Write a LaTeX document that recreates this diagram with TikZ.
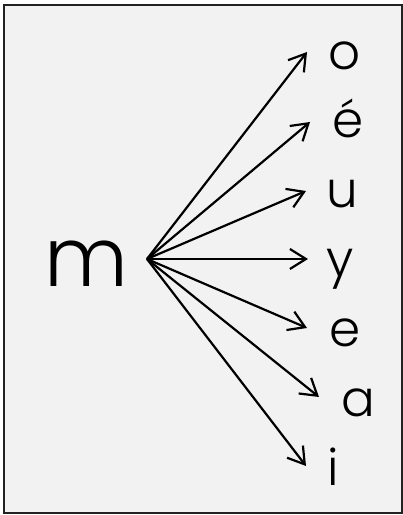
\documentclass[tikz,border=0pt]{standalone}
\usepackage{fontspec}
\setmainfont{Poppins Light}
\usetikzlibrary{arrows.meta}
\definecolor{bg}{HTML}{F2F2F2}
\definecolor{frame}{HTML}{222222}
\begin{document}
\begin{tikzpicture}[x=1pt,y=1pt,
  letter/.style={anchor=base,inner sep=0pt,font=\fontsize{50}{50}\selectfont},
  conn/.style={line width=2.2pt,-{Straight Barb[length=16pt,width=20pt,line width=2.2pt]}}]
\useasboundingbox (0,0) rectangle (403,515);
\draw[fill=bg,draw=frame,line width=1.5pt] (4,2) rectangle (402,510);
\node[anchor=base,inner sep=0pt,font=\fontsize{82}{82}\selectfont] (m) at (86,228) {m};
\node[letter] (o) at (345,445) {o};
\node[letter] (eacute) at (348,377) {é};
\node[letter] (u) at (342,307) {u};
\node[letter] (y) at (340,238) {y};
\node[letter] (e) at (345,168) {e};
\node[letter] (a) at (358,98) {a};
\node[letter] (i) at (333,30) {i};
\coordinate (src) at (147,256);
\coordinate (to) at (307,463);
\coordinate (te) at (310,393);
\coordinate (tu) at (306,324);
\coordinate (ty) at (308,256);
\coordinate (tee) at (307,187);
\coordinate (ta) at (319,118);
\coordinate (ti) at (306,49);
\foreach \t in {to,te,tu,ty,tee,ta,ti} \draw[conn] (src) -- (\t);
\end{tikzpicture}
\end{document}
